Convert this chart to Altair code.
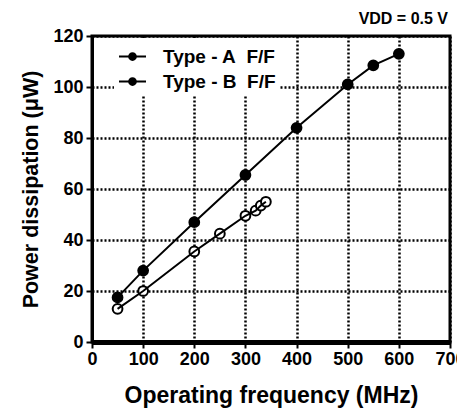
import altair as alt
import pandas as pd

freq_a = [50, 100, 200, 300, 400, 500, 550, 600]
power_a = [17.5, 28, 47, 65.5, 84, 101, 108.5, 113]
freq_b = [50, 100, 200, 250, 300, 320, 330, 340]
power_b = [13, 20, 35.5, 42.5, 49.5, 51.5, 53.5, 55]
series_names = ["Type - A\u00a0\u00a0F/F", "Type - B\u00a0\u00a0F/F"]
x_ticks = [0, 100, 200, 300, 400, 500, 600, 700]
y_ticks = [0, 20, 40, 60, 80, 100, 120]

df = pd.concat([
    pd.DataFrame({"f": freq_a, "p": power_a, "s": series_names[0], "fill": "black"}),
    pd.DataFrame({"f": freq_b, "p": power_b, "s": series_names[1], "fill": "white"}),
])

FONT = "Liberation Sans"
xs = alt.X("f:Q", scale=alt.Scale(domain=[0, 700]),
           axis=alt.Axis(values=x_ticks, title="Operating frequency (MHz)"))
ys = alt.Y("p:Q", scale=alt.Scale(domain=[0, 120]),
           axis=alt.Axis(values=y_ticks, title="Power dissipation (\u03bcW)"))

legend_path = "M-1,0H1M-0.25,0a0.25,0.25 0 1,0 0.5,0a0.25,0.25 0 1,0 -0.5,0Z"

lines = alt.Chart(df).mark_line(strokeWidth=2).encode(
    x=xs, y=ys,
    color=alt.Color("s:N", scale=alt.Scale(domain=series_names, range=["black", "black"]),
                    legend=alt.Legend(title=None, orient="none", legendX=22, legendY=2,
                                      symbolType=legend_path, symbolSize=729,
                                      symbolStrokeWidth=2, symbolFillColor="black",
                                      symbolStrokeColor="black",
                                      labelFont=FONT, labelFontSize=19, labelFontWeight="bold",
                                      labelColor="black", labelOffset=16, rowPadding=-2,
                                      fillColor="white", padding=4)),
    detail="s:N",
)

points = alt.Chart(df).mark_point(size=95, strokeWidth=2, opacity=1, color="black").encode(
    x=xs, y=ys,
    fill=alt.Fill("fill:N", scale=None, legend=None),
)

chart = alt.layer(points, lines).properties(
    width=358, height=306,
    title=alt.TitleParams("VDD = 0.5 V", anchor="end", frame="group", font=FONT, fontSize=16,
                          fontWeight="bold", color="black", offset=0, dx=-2),
    autosize=alt.AutoSizeParams(type="none"),
    padding={"left": 84, "top": 28, "right": 7, "bottom": 70},
).configure_view(stroke="black", strokeWidth=3).configure_axis(
    grid=True, gridColor="black", gridDash=[2, 2], gridWidth=2.5, gridOpacity=1,
    domainColor="black", domainWidth=3, tickColor="black", tickWidth=2, tickSize=6,
    labelFont=FONT, labelFontSize=18, labelFontWeight="bold", labelColor="black",
    titleFont=FONT, titleFontWeight="bold", titleColor="black",
).configure_axisX(titleFontSize=23, titlePadding=16, labelPadding=2, labelFlush=False,
                  domainWidth=5
).configure_axisY(titleFontSize=21.5, titlePadding=10, labelPadding=3)

chart.save("out.html", embed_options={"renderer": "svg", "actions": False})
